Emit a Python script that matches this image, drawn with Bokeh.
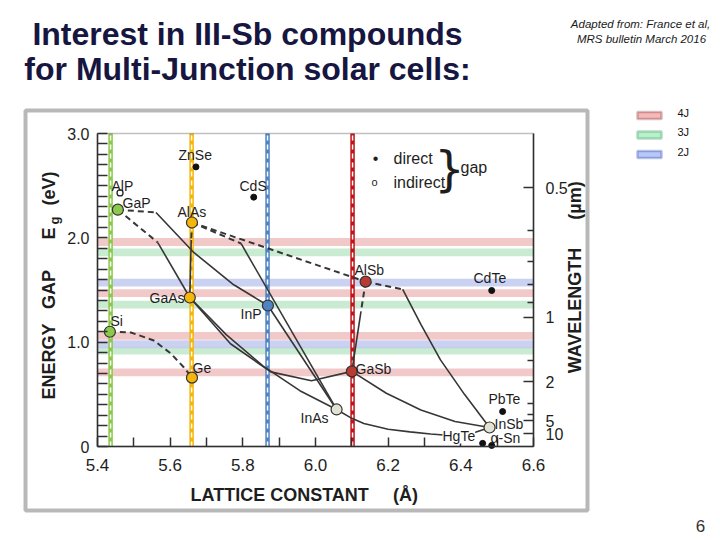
import numpy as np
from bokeh.plotting import figure
from bokeh.models import (Label, BoxAnnotation, LinearAxis, FixedTicker,
                          CustomJSTickFormatter, ColumnDataSource, Range1d)
from bokeh.embed import file_html
from bokeh.resources import INLINE

# ------------------------------------------------------------------ data
# lattice-matched substrate lines (lattice constant, Å): Si/GaP, GaAs/Ge, InP, GaSb
substrate_a = [5.436, 5.659, 5.868, 6.102]

# ideal sub-cell band gaps (eV) of multi-junction stacks
gaps_4j = [1.96, 1.47, 1.06, 0.71]
gaps_3j = [1.86, 1.36, 0.92]
gaps_2j = [1.57, 0.98]
junction_labels = ["4J", "3J", "2J"]

# highlighted binaries (lattice constant Å, gap eV)
green_names = ["GaP", "Si"];          green_a = [5.456, 5.434];        green_eg = [2.27, 1.10]
gold_names = ["AlAs", "GaAs", "Ge"];  gold_a = [5.660, 5.654, 5.660];  gold_eg = [2.147, 1.428, 0.66]
blue_names = ["InP"];                 blue_a = [5.869];                blue_eg = [1.351]
red_names = ["AlSb", "GaSb"];         red_a = [6.138, 6.100];          red_eg = [1.58, 0.72]
grey_names = ["InAs", "InSb"];        grey_a = [6.058, 6.479];         grey_eg = [0.355, 0.182]

# other compounds: direct (filled dot) and indirect (open dot)
direct_names = ["ZnSe", "CdS", "CdTe", "PbTe", "HgTe", "α-Sn"]
direct_a = [5.671, 5.830, 6.485, 6.515, 6.460, 6.485]
direct_eg = [2.68, 2.39, 1.495, 0.335, 0.03, 0.01]
indirect_names = ["AlP"]
indirect_a = [5.462]
indirect_eg = [2.43]

# ternary alloy curves: indirect-gap parts (dashed)
ind_curves_a = [
    [5.456, 5.561],                        # GaInP
    [5.456, 5.566],                        # GaAsP
    [5.660, 6.138],                        # AlAsSb
    [5.660, 5.795],                        # AlInAs
    [6.138, 6.240],                        # AlInSb
    [6.138, 6.125],                        # AlGaSb
    [5.660, 5.658],                        # AlGaAs
    [5.434, 5.492, 5.555, 5.602, 5.638, 5.660],  # SiGe
]
ind_curves_eg = [
    [2.27, 2.243],
    [2.27, 1.955],
    [2.147, 1.58],
    [2.147, 1.946],
    [1.58, 1.505],
    [1.58, 1.29],
    [2.147, 1.98],
    [1.10, 1.093, 1.016, 0.891, 0.757, 0.66],
]
# direct-gap parts (solid)
dir_curves_a = [
    [5.561, 5.665, 5.775, 5.869],                 # GaInP
    [5.566, 5.654],                               # GaAsP
    [5.795, 6.058],                               # AlInAs
    [5.869, 6.058],                               # InAsP
    [5.654, 5.755, 5.856, 5.957, 6.058],          # InGaAs
    [5.654, 5.766, 5.877, 5.989, 6.100],          # GaAsSb
    [6.100, 6.195, 6.290, 6.384, 6.479],          # GaInSb
    [6.058, 6.100, 6.133, 6.200, 6.260, 6.317, 6.370, 6.430, 6.479],  # InAsSb
    [6.240, 6.290, 6.344, 6.410, 6.479],          # AlInSb
    [6.125, 6.100],                               # AlGaSb
    [5.658, 5.654],                               # AlGaAs
]
dir_curves_eg = [
    [2.243, 1.86, 1.55, 1.351],
    [1.955, 1.428],
    [1.946, 0.355],
    [1.351, 0.355],
    [1.428, 1.07, 0.77, 0.535, 0.355],
    [1.428, 0.985, 0.715, 0.63, 0.72],
    [0.72, 0.51, 0.35, 0.24, 0.182],
    [0.355, 0.27, 0.22, 0.165, 0.14, 0.12, 0.105, 0.125, 0.182],
    [1.505, 1.17, 0.83, 0.50, 0.182],
    [1.29, 0.72],
    [1.98, 1.428],
]

# axes
A_MIN, A_MAX = 5.4, 6.6
E_MIN, E_MAX = 0.0, 3.0
x_major = [5.4, 5.6, 5.8, 6.0, 6.2, 6.4, 6.6]
x_minor = [5.5, 5.7, 5.9, 6.1, 6.3, 6.5]
y_major = [0.0, 1.0, 2.0, 3.0]
y_minor = [round(0.1 * i, 1) for i in range(1, 30) if i % 10]
wl_major = [0.5, 1, 2, 5, 10]          # wavelength (µm)
wl_minor = [0.6, 0.7, 0.8, 0.9, 1.5, 3, 4]
HC = 1.24                               # eV·µm

# ------------------------------------------------------------------ styles
FONT = "Liberation Sans"
INK = "#1e1e1e"
CURVE = "#363636"
AXC = "#303030"
sub_colors = ["#8cc84b", "#f5b50a", "#4f83c2", "#c0141a"]
band_fill = {"4J": "#f0c0c0", "3J": "#c0e8ca", "2J": "#c2caef"}
legend_line = {"4J": "#7a2c2c", "3J": "#1c8a48", "2J": "#1a36a8"}
legend_fill = {"4J": "#f6b8b8", "3J": "#b8f0cc", "2J": "#b8c8f6"}

# page pixel -> data helpers (plot box spans page x 97..533, y 133..446)
FX0, FX1, FY0, FY1 = 97.0, 533.0, 133.0, 446.0
def ax(px):
    return A_MIN + (px - FX0) * (A_MAX - A_MIN) / (FX1 - FX0)
def ey(py):
    return E_MIN + (FY1 - py) * (E_MAX - E_MIN) / (FY1 - FY0)

W, H = 720, 540
p = figure(width=W, height=H,
           x_range=Range1d(ax(0), ax(W)), y_range=Range1d(ey(H), ey(0)),
           x_axis_location=None, y_axis_location=None,
           output_backend="svg", toolbar_location=None,
           min_border=0, min_border_left=0, min_border_right=0,
           min_border_top=0, min_border_bottom=0)
p.grid.visible = False
p.outline_line_color = None
p.background_fill_color = "white"
p.border_fill_color = "white"

def make_axis(ticker, formatter, loc, bounds, size, standoff, tick_in, minor_in):
    a = LinearAxis(ticker=ticker, formatter=formatter, fixed_location=loc, bounds=bounds)
    a.axis_line_color = AXC
    a.axis_line_width = 1.5
    a.major_tick_line_color = AXC
    a.minor_tick_line_color = AXC
    a.major_tick_line_width = 1.5
    a.minor_tick_line_width = 1.5
    a.major_tick_in = tick_in
    a.major_tick_out = 0
    a.minor_tick_in = minor_in
    a.minor_tick_out = 0
    a.major_label_text_font = FONT
    a.major_label_text_font_size = size
    a.major_label_text_color = INK
    a.major_label_standoff = standoff
    return a

# ---- junction bands
for lab_, gaps in zip(junction_labels, [gaps_4j, gaps_3j, gaps_2j]):
    p.hbar(y=gaps, height=0.075, left=A_MIN, right=A_MAX,
           fill_color=band_fill[lab_], line_color=None, fill_alpha=0.85)

# ---- substrate lines
sub_src = ColumnDataSource(dict(a=substrate_a, c=sub_colors))
p.segment(x0="a", y0=E_MIN, x1="a", y1=E_MAX, line_color="c", line_width=4.5, source=sub_src)
p.segment(x0="a", y0=E_MIN, x1="a", y1=E_MAX, line_color="white", line_width=1.5,
          line_dash="5 4", source=sub_src)

# ---- alloy curves
p.multi_line(xs=ind_curves_a, ys=ind_curves_eg, line_color=CURVE, line_width=2, line_dash="6 4")
p.multi_line(xs=dir_curves_a, ys=dir_curves_eg, line_color=CURVE, line_width=1.6)

# ---- compounds
p.scatter(direct_a, direct_eg, size=6, fill_color="#111111", line_color="#111111")
p.scatter(indirect_a, indirect_eg, size=6, fill_color="white", line_color="#222222", line_width=1.3)
for xs_, ys_, col in [(green_a, green_eg, sub_colors[0]), (gold_a, gold_eg, sub_colors[1]),
                      (blue_a, blue_eg, sub_colors[2]), (red_a, red_eg, "#b83a33"),
                      (grey_a, grey_eg, "#e2e2d4")]:
    p.scatter(xs_, ys_, size=11, fill_color=col, line_color="#333333", line_width=1.2)

# ---- axes (drawn at the edges of the data box)
xa = make_axis(FixedTicker(ticks=x_major, minor_ticks=x_minor),
               CustomJSTickFormatter(code="return tick.toFixed(1);"),
               E_MIN, (A_MIN, A_MAX), "17px", 12, 9, 9)
p.add_layout(xa, "below")
ya = make_axis(FixedTicker(ticks=y_major, minor_ticks=y_minor),
               CustomJSTickFormatter(code="return tick == 0 ? '0' : tick.toFixed(1);"),
               A_MIN, (E_MIN, E_MAX), "16px", 8, 10, 10)
p.add_layout(ya, "left")
ra = make_axis(FixedTicker(ticks=[HC / w for w in wl_major], minor_ticks=[HC / w for w in wl_minor]),
               CustomJSTickFormatter(code="var w = %s / tick; return String(Math.round(w * 10) / 10);" % HC),
               A_MAX, (E_MIN, E_MAX), "16px", 12, 10, 6)
p.add_layout(ra, "right")
p.add_layout(BoxAnnotation(left=A_MIN, right=A_MAX, bottom=E_MIN, top=E_MAX,
                           fill_alpha=0.0, line_color=AXC, line_width=1.5))

def lab(text, px, py, size, align="left", baseline="middle", style="normal",
        color=INK, angle=0.0, font=FONT, **kw):
    p.add_layout(Label(x=ax(px), y=ey(py), text=text, text_font=font,
                       text_font_size=f"{size}px", text_align=align,
                       text_baseline=baseline, text_font_style=style,
                       text_color=color, angle=angle, **kw))

# compound labels (page positions)
name_pos = {
    "ZnSe": (178, 154, "left"), "CdS": (239, 185, "left"), "AlP": (111, 185, "left"),
    "GaP": (122, 202, "left"), "AlAs": (177, 211, "left"), "GaAs": (184, 297, "right"),
    "InP": (261, 313, "right"), "Si": (110, 320, "left"), "Ge": (192, 367, "left"),
    "AlSb": (354, 269, "left"), "CdTe": (473, 277, "left"), "GaSb": (355, 368, "left"),
    "InAs": (300, 417, "left"), "PbTe": (488, 398, "left"), "InSb": (494, 423, "left"),
    "α-Sn": (490, 437, "left"),
}
for nm in green_names + gold_names + blue_names + red_names + grey_names + direct_names + indirect_names:
    if nm in name_pos:
        x_, y_, al = name_pos[nm]
        lab(nm, x_, y_, 14, align=al)
lab("HgTe", 442, 435, 14, background_fill_color="white", background_fill_alpha=1.0)

# direct / indirect key
lab("•", 375, 158, 16, align="center")
lab("direct", 393, 158, 16)
lab("o", 374, 181, 11, align="center")
lab("indirect", 393, 182, 16)
lab("}", 449, 168, 48, align="center", font="DejaVu Sans")
lab("gap", 460, 167, 16)

# axis titles
lab("ENERGY", 48, 361, 18, align="center", angle=np.pi / 2, style="bold")
lab("GAP", 48, 289, 18, align="center", angle=np.pi / 2, style="bold")
lab("E", 48, 233, 18, align="center", angle=np.pi / 2, style="bold")
lab("g", 54, 220, 13, align="center", angle=np.pi / 2, style="bold")
lab("(eV)", 48, 188, 18, align="center", angle=np.pi / 2, style="bold")
lab("LATTICE CONSTANT", 190, 494, 18, style="bold")
lab("(Å)", 405, 494, 18, align="center", style="bold")
lab("WAVELENGTH", 574, 310, 18, align="center", angle=np.pi / 2, style="bold")
lab("(µm)", 574, 200, 18, align="center", angle=np.pi / 2, style="bold")

# scanned figure frame
p.add_layout(BoxAnnotation(left=ax(25), right=ax(587), bottom=ey(510), top=ey(110),
                           fill_alpha=0.0, line_color="#151515", line_width=4))

# junction legend
for i, lab_ in enumerate(junction_labels):
    cy = 115 + 19.5 * i
    p.add_layout(BoxAnnotation(left=ax(637), right=ax(661), bottom=ey(cy + 3.5), top=ey(cy - 3.5),
                               fill_color=legend_fill[lab_], fill_alpha=1.0,
                               line_color=legend_line[lab_], line_width=2.5))
    lab(lab_, 677, cy - 3, 11, color="#111111")

# slide texts
TITLE = "#161640"
lab("Interest in III-Sb compounds", 247, 33, 32, align="center", baseline="alphabetic",
    style="bold", color=TITLE)
lab("for Multi-Junction solar cells:", 247, 68, 32, align="center", baseline="alphabetic",
    style="bold", color=TITLE)
lab("Adapted from: France et al,", 640, 23, 11.5, align="center", baseline="alphabetic",
    style="italic", color="#1a1a1a")
lab("MRS bulletin March 2016", 641, 38, 11.5, align="center", baseline="alphabetic",
    style="italic", color="#1a1a1a")
lab("6", 700, 525, 17, align="center", baseline="middle", color="#333333")

open("out.html", "w").write(file_html(p, INLINE))
